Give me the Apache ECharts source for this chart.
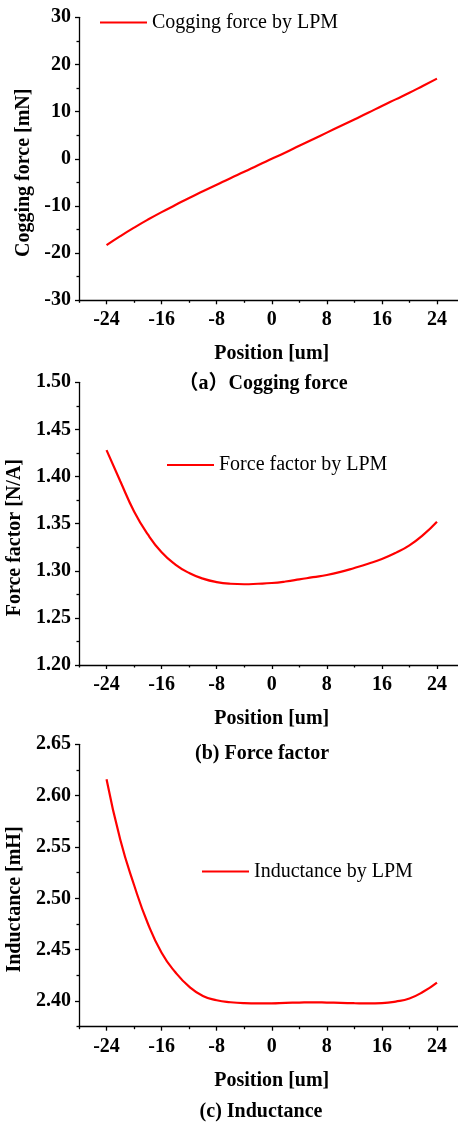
<!DOCTYPE html>
<html>
<head>
<meta charset="utf-8">
<script src="https://cdn.jsdelivr.net/npm/echarts@6/dist/echarts.min.js"></script>
<style>
html,body{margin:0;padding:0;background:#fff;}
#chart{width:458px;height:1126px;}
</style>
</head>
<body>
<div id="chart"></div>
<script>
// ---- data ----
const positions = [-24,-22,-20,-18,-16,-14,-12,-10,-8,-6,-4,-2,0,2,4,6,8,10,12,14,16,18,20,22,24];
const coggingForce = [-18.3,-16.4,-14.6,-12.9,-11.3,-9.8,-8.3,-6.9,-5.5,-4.1,-2.75,-1.35,0,1.35,2.75,4.15,5.55,6.95,8.35,9.75,11.2,12.6,14.0,15.5,17.0];
const forceFactor = [1.428,1.395,1.363,1.3385,1.3196,1.3066,1.2976,1.2917,1.288,1.2862,1.2857,1.2862,1.287,1.2886,1.2908,1.2932,1.2955,1.2988,1.303,1.3075,1.3125,1.319,1.327,1.338,1.352];
const inductance = [2.616,2.557,2.513,2.4755,2.447,2.428,2.414,2.405,2.4008,2.3988,2.3979,2.3977,2.3978,2.3982,2.3985,2.3987,2.3985,2.3982,2.3979,2.3977,2.398,2.3995,2.4025,2.409,2.418];

const xTicks = [-24,-16,-8,0,8,16,24];
const xMinorTicks = [-28,-20,-12,-4,4,12,20,28];
const yTicks1 = [-30,-20,-10,0,10,20,30];
const yMinor1 = [-25,-15,-5,5,15,25];
const yTicks2 = [1.20,1.25,1.30,1.35,1.40,1.45,1.50];
const yMinor2 = [1.225,1.275,1.325,1.375,1.425,1.475];
const yTicks3 = [2.40,2.45,2.50,2.55,2.60,2.65];
const yMinor3 = [2.375,2.425,2.475,2.525,2.575,2.625];

const seriesNames = ['Cogging force by LPM','Force factor by LPM','Inductance by LPM'];
const yNames = ['Cogging force [mN]','Force factor [N/A]','Inductance [mH]'];
const xName = 'Position [um]';
const captions = ['（a）Cogging force','(b) Force factor','(c) Inductance'];

// ---- layout / style ----
const FONT = '"Liberation Serif","Times New Roman",serif';
const grids = [
  {top:17.3, height:283},
  {top:382.3, height:282.7},
  {top:744.3, height:282.4}
];
const yRanges = [[-30,30],[1.2,1.5],[2.375,2.65]];
const yMajors = [yTicks1,yTicks2,yTicks3];
const yMinors = [yMinor1,yMinor2,yMinor3];
const yFmt = [v=>String(Math.round(v)), v=>v.toFixed(2), v=>v.toFixed(2)];
const yNameGap = [41,51,51];
const datasets = [coggingForce, forceFactor, inductance];
const legendPos = [{left:100,cy:22.5},{left:167,cy:465},{left:202,cy:871.5}];
const captionPos = [{x:263,y:384},{x:262,y:753.5},{x:261,y:1112}];

const axisLineStyle = {color:'#000', width:1.3};
const labelStyle = {color:'#000', fontFamily:FONT, fontWeight:'bold', fontSize:20};

const gridOpt = [], xAxes = [], yAxes = [], series = [], legends = [], graphics = [];
for (let i=0;i<3;i++){
  gridOpt.push({left:79, width:385.5, top:grids[i].top, height:grids[i].height, containLabel:false, outerBoundsMode:'none'});
  xAxes.push({
    type:'value', gridIndex:i, min:-28, max:28, position:'bottom',
    name:xName, nameLocation:'middle', nameGap:44,
    nameTextStyle:{color:'#000', fontFamily:FONT, fontWeight:'bold', fontSize:20},
    axisLine:{show:true, onZero:false, lineStyle:axisLineStyle},
    axisTick:{show:true, length:4, customValues:xTicks, lineStyle:axisLineStyle},
    axisLabel:Object.assign({show:true, margin:10, customValues:xTicks, formatter:v=>String(v)}, labelStyle),
    splitLine:{show:false}
  });
  xAxes.push({
    type:'value', gridIndex:i, min:-28, max:28, position:'bottom',
    axisLine:{show:false, onZero:false},
    axisTick:{show:true, length:2.5, customValues:xMinorTicks, lineStyle:axisLineStyle},
    axisLabel:{show:false}, splitLine:{show:false}
  });
  yAxes.push({
    type:'value', gridIndex:i, min:yRanges[i][0], max:yRanges[i][1], position:'left',
    name:yNames[i], nameLocation:'middle', nameGap:yNameGap[i], nameRotate:90,
    nameTextStyle:{color:'#000', fontFamily:FONT, fontWeight:'bold', fontSize:20, padding:[0,28,0,0]},
    axisLine:{show:true, onZero:false, lineStyle:axisLineStyle},
    axisTick:{show:true, length:4, customValues:yMajors[i], lineStyle:axisLineStyle},
    axisLabel:Object.assign({show:true, margin:8, customValues:yMajors[i], formatter:yFmt[i]}, labelStyle),
    splitLine:{show:false}
  });
  yAxes.push({
    type:'value', gridIndex:i, min:yRanges[i][0], max:yRanges[i][1], position:'left',
    axisLine:{show:false, onZero:false},
    axisTick:{show:true, length:2.5, customValues:yMinors[i], lineStyle:axisLineStyle},
    axisLabel:{show:false}, splitLine:{show:false}
  });
  series.push({
    name:seriesNames[i], type:'line', xAxisIndex:2*i, yAxisIndex:2*i,
    data:positions.map((p,k)=>[p, datasets[i][k]]),
    smooth:0.5, symbol:'none', lineStyle:{color:'#ff0000', width:2.2}, itemStyle:{color:'#ff0000'},
    animation:false
  });
  legends.push({
    data:[seriesNames[i]], left:legendPos[i].left, top:legendPos[i].cy-10, padding:0,
    icon:'rect', itemWidth:47, itemHeight:2.2, itemGap:0,
    itemStyle:{color:'#ff0000'},
    textStyle:{color:'#000', fontFamily:FONT, fontSize:20, lineHeight:20, padding:[0,0,0,0]}
  });
  graphics.push({
    type:'text', x:captionPos[i].x, y:captionPos[i].y,
    style:{text:captions[i], x:0, y:0, align:'center', verticalAlign:'middle',
      fill:'#000', font:'bold 20px "Liberation Serif","Noto Sans CJK SC",serif'}
  });
}

const chart = echarts.init(document.getElementById('chart'), null, {renderer:'canvas', width:458, height:1126});
chart.setOption({
  backgroundColor:'#fff',
  animation:false,
  grid:gridOpt, xAxis:xAxes, yAxis:yAxes, series:series, legend:legends,
  graphic:graphics
});
</script>
</body>
</html>
